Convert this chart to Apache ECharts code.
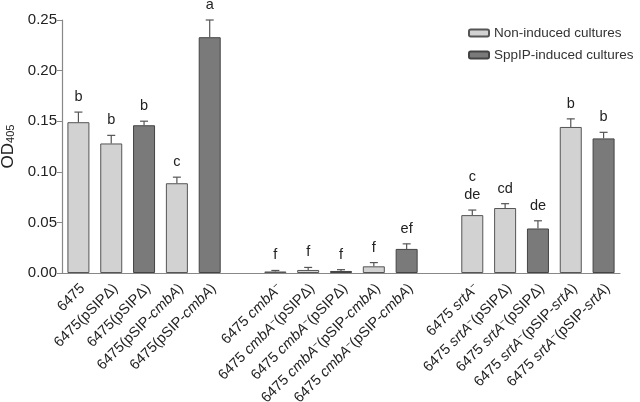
<!DOCTYPE html>
<html><head><meta charset="utf-8">
<script src="https://cdn.jsdelivr.net/npm/echarts@6/dist/echarts.min.js"></script>
<style>html,body{margin:0;padding:0;background:#fff}#c{width:640px;height:402px}</style>
</head><body><div id="c"></div>
<script>
var categories = ['6475','6475(pSIPΔ)','6475(pSIPΔ)','6475(pSIP-{i|cmbA})','6475(pSIP-{i|cmbA})','',
  '6475 {i|cmbA}{s|−}','6475 {i|cmbA}{s|−}(pSIPΔ)','6475 {i|cmbA}{s|−}(pSIPΔ)','6475 {i|cmbA}{s|−}(pSIP-{i|cmbA})','6475 {i|cmbA}{s|−}(pSIP-{i|cmbA})','',
  '6475 {i|srtA}{s|−}','6475 {i|srtA}{s|−}(pSIPΔ)','6475 {i|srtA}{s|−}(pSIPΔ)','6475 {i|srtA}{s|−}(pSIP-{i|srtA})','6475 {i|srtA}{s|−}(pSIP-{i|srtA})'];
var nonInduced = [0.149,0.128,null,0.0887,null,null,0.0015,0.003,null,0.0066,null,null,0.0572,0.0642,null,0.1443,null];
var induced    = [null,null,0.146,null,0.233,null,null,null,0.002,null,0.0238,null,null,null,0.044,null,0.133];
var errors     = [0.010,0.008,0.004,0.006,0.017,null,0.001,0.0025,0.0013,0.0037,0.005,null,0.005,0.0043,0.0076,0.008,0.006];
var letters    = ['b','b','b','c','a','','f','f','f','f','ef','','c\nde','cd','de','b','b'];

var errData = [];
for (var i = 0; i < categories.length; i++) {
  var v = nonInduced[i] != null ? nonInduced[i] : induced[i];
  if (v != null) errData.push([i, v, errors[i], letters[i]]);
}
var FONT = '"Liberation Sans", Arial, sans-serif';
var chart = echarts.init(document.getElementById('c'));
chart.setOption({
  animation: false,
  textStyle: {fontFamily: FONT},
  legend: {
    orient: 'vertical', left: 463, top: 21, itemWidth: 20, itemHeight: 7, itemGap: 8,
    textStyle: {fontSize: 13.5, color: '#333', fontFamily: FONT},
    data: ['Non-induced cultures', 'SppIP-induced cultures']
  },
  grid: {left: 62, right: 20, top: 20, bottom: 129, containLabel: false, outerBoundsMode: 'none'},
  xAxis: {
    type: 'category', data: categories,
    axisLine: {lineStyle: {color: '#888', width: 1.2}},
    axisTick: {show: false},
    axisLabel: {
      interval: 0, rotate: 45, fontSize: 14.5, color: '#222', margin: 9, fontFamily: FONT,
      padding: [12, 0, 0, 0],
      rich: {i: {fontStyle: 'italic', fontSize: 14.5, fontFamily: FONT, color: '#222'},
             s: {fontSize: 9, fontFamily: FONT, color: '#222', verticalAlign: 'top'}}
    }
  },
  yAxis: {
    type: 'value', min: 0, max: 0.25, interval: 0.05,
    name: 'OD{sub|405}', nameLocation: 'middle', nameGap: 44, nameRotate: 90,
    nameTextStyle: {fontSize: 17, color: '#222', fontFamily: FONT,
      rich: {sub: {fontSize: 11, color: '#222', fontFamily: FONT, verticalAlign: 'bottom', padding: [6, 0, 0, 0]}}},
    axisLine: {show: true, lineStyle: {color: '#888', width: 1.2}},
    axisTick: {show: true, length: 5, lineStyle: {color: '#888'}},
    splitLine: {show: false},
    axisLabel: {fontSize: 15, color: '#222', margin: 5, fontFamily: FONT,
      formatter: function (v) { return v.toFixed(2); }}
  },
  series: [
    {name: 'Non-induced cultures', type: 'bar', data: nonInduced, barWidth: 22, barGap: '-100%',
     itemStyle: {color: '#d2d2d2', borderColor: '#555', borderWidth: 1}},
    {name: 'SppIP-induced cultures', type: 'bar', data: induced, barWidth: 22, barGap: '-100%',
     itemStyle: {color: '#7a7a7b', borderColor: '#444', borderWidth: 1}},
    {type: 'custom', data: errData, encode: {x: 0, y: 1}, z: 5,
     renderItem: function (params, api) {
       var x = api.value(0), v = api.value(1), e = api.value(2);
       var lbl = errData[params.dataIndex][3];
       var p0 = api.coord([x, v]);
       var p1 = api.coord([x, v + e]);
       var hw = 4;
       var st = {stroke: '#555', lineWidth: 1.2};
       return {type: 'group', children: [
         {type: 'line', shape: {x1: p0[0], y1: p0[1], x2: p1[0], y2: p1[1]}, style: st},
         {type: 'line', shape: {x1: p1[0] - hw, y1: p1[1], x2: p1[0] + hw, y2: p1[1]}, style: st},
         {type: 'text', x: p1[0], y: p1[1] - 6, style: {text: lbl, fill: '#222', fontSize: 14.5,
           fontFamily: FONT, align: 'center', verticalAlign: 'bottom', lineHeight: 18}}
       ]};
     }}
  ]
});
</script></body></html>
